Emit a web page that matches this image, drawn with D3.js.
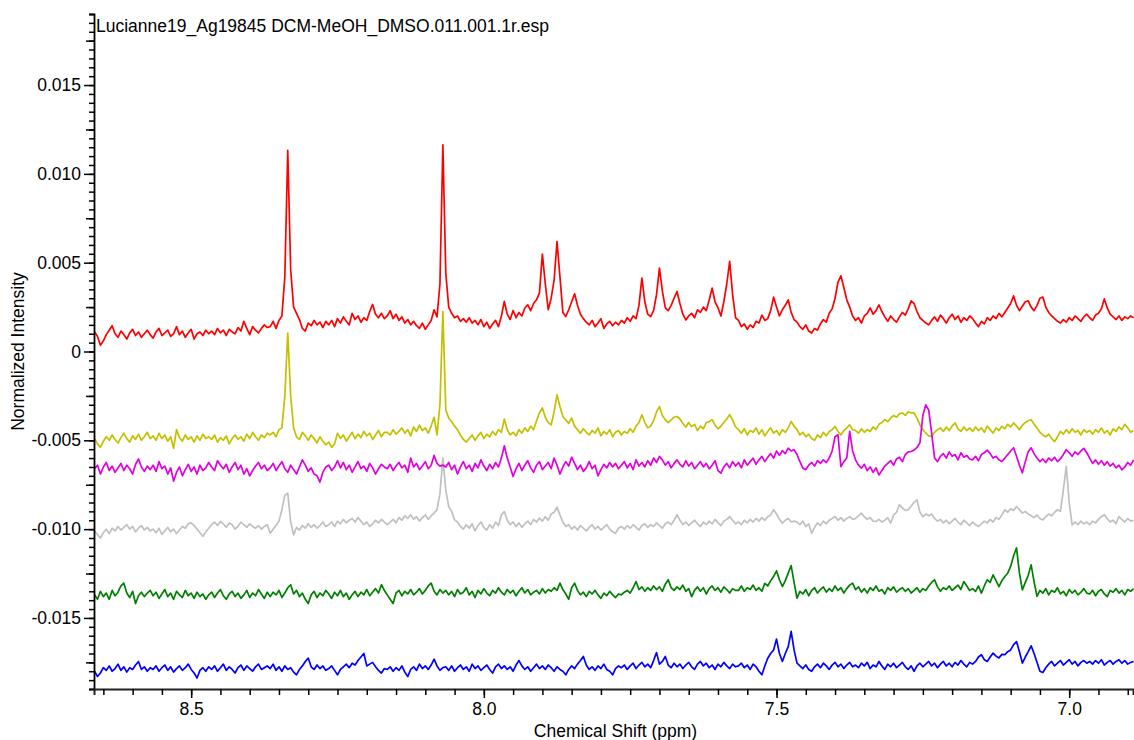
<!DOCTYPE html>
<html>
<head>
<meta charset="utf-8">
<script src="https://cdn.jsdelivr.net/npm/d3@7"></script>
<style>
  html, body { margin: 0; padding: 0; background: #ffffff; }
  svg { display: block; font-family: "Liberation Sans", Arial, Helvetica, sans-serif; }
</style>
</head>
<body>
<svg id="chart" width="1134" height="740"></svg>
<script>
// Chemical-shift grid of the spectra (ppm): first point and spacing, 356 points each
const shiftStart = 8.665;
const shiftStep = 0.005;
// Intensities are stored in units of 1e-5 (normalized intensity)
const intensityUnit = 1e-5;

const redTrace = [
  110, 85, 35, 60, 95, 120, 145, 100, 80, 115, 95, 70, 105, 125, 90, 110, 80, 100, 120, 95,
  75, 110, 130, 90, 105, 120, 85, 100, 140, 95, 115, 80, 105, 125, 70, 100, 110, 90, 120, 100,
  115, 95, 130, 105, 120, 90, 125, 110, 100, 135, 115, 170, 130, 95, 140, 120, 105, 130, 150, 135,
  140, 170, 130, 175, 200, 420, 1132, 460, 250, 215, 180, 130, 115, 160, 145, 175, 150, 165, 135, 170,
  150, 175, 140, 185, 160, 195, 170, 150, 215, 180, 200, 165, 190, 175, 225, 265, 210, 190, 215, 185,
  200, 230, 185, 210, 175, 195, 160, 180, 150, 170, 145, 130, 160, 125, 150, 175, 235, 195, 380, 1164,
  440, 250, 215, 190, 200, 170, 185, 165, 190, 160, 175, 150, 180, 140, 165, 130, 155, 175, 140, 200,
  282, 210, 180, 231, 190, 220, 200, 245, 263, 230, 270, 291, 330, 548, 380, 235, 300, 400, 619, 420,
  220, 197, 235, 280, 325, 260, 210, 185, 165, 150, 175, 140, 160, 185, 130, 155, 170, 145, 165, 150,
  175, 160, 190, 170, 200, 185, 260, 413, 280, 210, 197, 230, 320, 469, 340, 246, 230, 260, 300, 338,
  270, 210, 178, 200, 215, 190, 235, 220, 250, 230, 290, 357, 280, 246, 200, 280, 380, 507, 320, 190,
  175, 140, 155, 125, 150, 135, 170, 160, 205, 175, 185, 230, 306, 250, 200, 235, 260, 291, 220, 180,
  165, 140, 125, 150, 115, 104, 130, 120, 155, 180, 165, 215, 240, 300, 390, 426, 360, 291, 250, 200,
  175, 190, 160, 200, 215, 245, 210, 230, 262, 225, 195, 170, 200, 180, 165, 195, 220, 205, 240, 285,
  270, 225, 190, 175, 160, 150, 175, 195, 170, 205, 185, 160, 190, 210, 180, 200, 165, 190, 175, 200,
  185, 160, 140, 170, 155, 190, 175, 200, 185, 215, 195, 220, 245, 270, 313, 260, 230, 255, 280, 285,
  250, 230, 260, 300, 307, 250, 220, 200, 185, 170, 160, 180, 165, 190, 175, 200, 185, 170, 195, 210,
  190, 175, 205, 215, 240, 296, 245, 210, 195, 180, 200, 175, 195, 185, 200, 190
];

const yellowTrace = [
  -490, -520, -540, -505, -480, -500, -470, -495, -515, -485, -460, -490, -510, -475, -495, -465, -500, -480, -455, -490,
  -475, -500, -460, -490, -470, -505, -480, -545, -440, -485, -505, -470, -495, -480, -510, -475, -500, -465, -490, -480,
  -495, -470, -510, -485, -500, -475, -520, -490, -470, -495, -480, -505, -465, -490, -455, -480, -500, -470, -485, -460,
  -470, -455, -480, -440, -430, -250, 104, -250, -430, -480, -495, -455, -475, -500, -470, -490, -515, -480, -505, -525,
  -510, -540, -520, -460, -490, -470, -505, -480, -455, -490, -465, -485, -450, -475, -460, -495, -470, -445, -480, -455,
  -455, -470, -440, -465, -450, -430, -460, -440, -475, -425, -450, -415, -445, -430, -460, -420, -370, -470, -300, 225,
  -330, -374, -395, -420, -440, -470, -495, -510, -490, -470, -500, -475, -455, -490, -465, -480, -450, -470, -440, -455,
  -380, -440, -470, -455, -475, -440, -460, -430, -450, -420, -440, -390, -345, -318, -370, -400, -413, -340, -244, -310,
  -366, -385, -405, -375, -420, -440, -460, -435, -455, -470, -445, -460, -430, -475, -450, -465, -440, -480, -455, -445,
  -470, -450, -460, -435, -455, -420, -400, -356, -400, -430, -420, -390, -340, -310, -360, -385, -400, -385, -370, -366,
  -380, -405, -425, -400, -423, -410, -445, -420, -435, -400, -395, -384, -415, -435, -420, -400, -380, -356, -385, -425,
  -440, -460, -435, -470, -445, -455, -430, -465, -440, -475, -450, -430, -460, -445, -470, -440, -455, -430, -394, -420,
  -440, -470, -455, -480, -465, -490, -500, -470, -485, -455, -475, -450, -440, -422, -450, -470, -445, -430, -413, -440,
  -445, -460, -435, -455, -440, -450, -425, -440, -410, -400, -384, -395, -375, -360, -370, -350, -346, -360, -340, -346,
  -346, -375, -413, -440, -460, -475, -478, -455, -440, -430, -450, -425, -445, -420, -402, -435, -450, -425, -445, -430,
  -450, -425, -445, -430, -455, -420, -440, -460, -430, -445, -420, -435, -410, -425, -402, -420, -440, -415, -400, -390,
  -384, -410, -430, -455, -470, -480, -465, -490, -507, -480, -450, -465, -440, -460, -435, -455, -445, -470, -440, -455,
  -445, -465, -440, -455, -430, -460, -445, -470, -435, -450, -425, -440, -410, -430, -455, -445
];

const magentaTrace = [
  -660, -640, -690, -650, -625, -670, -645, -680, -655, -630, -670, -640, -660, -690, -635, -605, -650, -675, -645, -665,
  -640, -675, -620, -660, -645, -690, -655, -730, -680, -650, -700, -665, -635, -675, -650, -690, -640, -670, -655, -625,
  -650, -670, -615, -640, -660, -635, -680, -650, -625, -665, -640, -690, -660, -700, -670, -645, -625, -660, -640, -670,
  -655, -630, -670, -645, -620, -660, -680, -640, -665, -690, -650, -610, -640, -675, -655, -690, -700, -735, -680, -650,
  -640, -670, -650, -615, -655, -625, -665, -640, -680, -650, -620, -660, -645, -675, -630, -655, -690, -660, -635, -650,
  -660, -635, -670, -645, -625, -655, -640, -680, -600, -650, -630, -665, -645, -620, -660, -640, -585, -630, -645, -640,
  -650, -625, -665, -640, -690, -650, -620, -660, -640, -675, -630, -655, -610, -645, -670, -635, -660, -625, -650, -600,
  -531, -600, -650, -704, -660, -630, -670, -640, -615, -655, -680, -640, -620, -665, -645, -625, -660, -600, -640, -690,
  -650, -620, -645, -595, -630, -665, -640, -675, -655, -620, -660, -640, -700, -665, -635, -655, -625, -650, -630, -660,
  -640, -620, -655, -630, -665, -610, -645, -625, -650, -615, -640, -600, -625, -591, -610, -640, -620, -655, -630, -610,
  -635, -650, -615, -645, -625, -660, -640, -620, -650, -630, -660, -640, -615, -670, -685, -650, -630, -655, -620, -645,
  -625, -655, -610, -640, -620, -600, -635, -610, -590, -620, -595, -575, -600, -560, -585, -558, -575, -544, -560, -553,
  -580, -620, -657, -665, -640, -625, -645, -615, -630, -610, -625, -600, -560, -480, -469, -648, -620, -600, -450, -560,
  -610, -640, -657, -635, -670, -650, -680, -655, -695, -670, -645, -630, -615, -640, -605, -595, -620, -580, -565, -563,
  -555, -540, -514, -360, -300, -330, -459, -600, -620, -590, -575, -600, -565, -590, -580, -610, -570, -595, -585, -605,
  -610, -590, -615, -580, -570, -555, -575, -600, -590, -610, -619, -600, -580, -560, -542, -590, -640, -683, -620, -565,
  -542, -575, -600, -620, -605, -625, -600, -615, -595, -620, -605, -580, -553, -570, -590, -565, -580, -560, -545, -570,
  -600, -630, -610, -635, -615, -640, -620, -645, -630, -655, -640, -666, -650, -625, -640, -610
];

const greyTrace = [
  -1013, -1030, -1050, -1020, -1000, -1025, -995, -1010, -985, -1005, -990, -975, -1000, -985, -1015, -995, -980, -1005, -990, -1010,
  -1000, -1020, -995, -1030, -1010, -990, -1015, -1000, -1025, -1005, -985, -995, -970, -965, -980, -1000, -1020, -1041, -1015, -995,
  -975, -960, -980, -957, -970, -990, -965, -975, -1000, -985, -960, -975, -990, -970, -985, -995, -980, -1000, -985, -975,
  -1023, -1000, -980, -955, -891, -810, -797, -960, -1032, -990, -1005, -980, -995, -970, -990, -975, -995, -980, -960, -985,
  -975, -960, -985, -955, -970, -945, -965, -950, -940, -960, -935, -955, -975, -960, -985, -970, -950, -965, -945, -960,
  -975, -960, -945, -965, -935, -950, -925, -940, -919, -945, -930, -955, -935, -920, -945, -925, -910, -891, -800, -600,
  -780, -873, -900, -948, -960, -985, -1000, -975, -995, -970, -1010, -980, -960, -990, -1005, -975, -995, -960, -980, -920,
  -901, -950, -975, -960, -985, -965, -990, -970, -955, -975, -945, -960, -938, -955, -930, -950, -915, -905, -876, -920,
  -960, -985, -975, -1000, -985, -1005, -980, -995, -1010, -990, -975, -1000, -985, -1005, -990, -975, -1000, -1015, -1023, -995,
  -985, -1000, -980, -995, -975, -990, -1005, -980, -970, -990, -975, -985, -965, -980, -995, -970, -960, -975, -950, -919,
  -950, -975, -960, -980, -965, -950, -970, -985, -960, -975, -955, -970, -945, -965, -980, -955, -945, -929, -950, -970,
  -960, -975, -950, -965, -945, -960, -940, -955, -935, -950, -930, -920, -891, -915, -945, -966, -950, -940, -960, -955,
  -960, -975, -955, -985, -970, -1023, -990, -965, -980, -955, -970, -950, -940, -929, -950, -935, -955, -940, -930, -945,
  -940, -925, -910, -930, -945, -935, -955, -957, -945, -960, -950, -935, -966, -920, -905, -863, -880, -895, -891, -870,
  -850, -835, -905, -930, -915, -925, -915, -940, -955, -945, -965, -950, -970, -955, -940, -960, -975, -950, -965, -980,
  -960, -975, -985, -970, -955, -965, -945, -960, -935, -945, -920, -891, -905, -885, -895, -873, -890, -910, -900, -915,
  -925, -935, -920, -940, -948, -930, -915, -925, -905, -891, -900, -780, -647, -850, -976, -960, -975, -955, -970, -960,
  -975, -955, -965, -945, -930, -919, -940, -960, -950, -970, -929, -945, -960, -940, -955, -950
];

const greenTrace = [
  -1370, -1395, -1350, -1380, -1360, -1395, -1345, -1375, -1355, -1320, -1304, -1360, -1385, -1350, -1419, -1375, -1355, -1380, -1360, -1345,
  -1375, -1355, -1390, -1365, -1340, -1380, -1360, -1395, -1350, -1370, -1385, -1345, -1375, -1360, -1390, -1355, -1380, -1365, -1395, -1370,
  -1355, -1385, -1360, -1340, -1375, -1395, -1365, -1350, -1380, -1360, -1390, -1370, -1345, -1385, -1360, -1375, -1340, -1365, -1390, -1355,
  -1380, -1355, -1370, -1345, -1385, -1360, -1330, -1313, -1365, -1345, -1380, -1360, -1395, -1419, -1370, -1350, -1385, -1360, -1375, -1345,
  -1365, -1390, -1355, -1375, -1345, -1380, -1360, -1395, -1370, -1350, -1380, -1355, -1370, -1340, -1375, -1355, -1335, -1360, -1313, -1345,
  -1370, -1395, -1419, -1360, -1345, -1375, -1350, -1365, -1340, -1370, -1355, -1335, -1365, -1345, -1320, -1304, -1350, -1370, -1340, -1360,
  -1345, -1370, -1350, -1380, -1340, -1365, -1355, -1330, -1370, -1350, -1385, -1345, -1365, -1335, -1360, -1375, -1345, -1360, -1330, -1355,
  -1370, -1340, -1360, -1345, -1375, -1350, -1330, -1360, -1340, -1370, -1355, -1345, -1365, -1335, -1360, -1340, -1350, -1330, -1345, -1304,
  -1340, -1365, -1395, -1330, -1304, -1345, -1370, -1355, -1380, -1350, -1365, -1345, -1370, -1390, -1360, -1375, -1350, -1370, -1385, -1365,
  -1370, -1355, -1345, -1360, -1330, -1295, -1340, -1325, -1350, -1330, -1345, -1320, -1340, -1325, -1350, -1310, -1285, -1330, -1345, -1325,
  -1340, -1315, -1350, -1335, -1380, -1345, -1325, -1350, -1330, -1365, -1335, -1320, -1345, -1330, -1355, -1325, -1340, -1360, -1335, -1345,
  -1345, -1320, -1350, -1330, -1340, -1315, -1345, -1330, -1350, -1305, -1320, -1290, -1267, -1235, -1285, -1323, -1290, -1248, -1205, -1300,
  -1389, -1350, -1365, -1340, -1375, -1345, -1330, -1360, -1340, -1325, -1355, -1335, -1350, -1320, -1345, -1330, -1360, -1335, -1315, -1304,
  -1340, -1325, -1355, -1335, -1360, -1330, -1345, -1320, -1350, -1340, -1365, -1330, -1345, -1325, -1355, -1340, -1330, -1350, -1335, -1360,
  -1345, -1330, -1355, -1335, -1345, -1320, -1300, -1285, -1325, -1350, -1330, -1340, -1320, -1345, -1330, -1315, -1340, -1295, -1320, -1345,
  -1335, -1350, -1320, -1360, -1320, -1285, -1300, -1257, -1290, -1323, -1290, -1267, -1248, -1210, -1150, -1106, -1248, -1342, -1300, -1260,
  -1201, -1295, -1379, -1345, -1360, -1335, -1370, -1345, -1355, -1330, -1365, -1350, -1375, -1340, -1360, -1345, -1370, -1355, -1335, -1360,
  -1365, -1345, -1375, -1350, -1340, -1365, -1380, -1345, -1355, -1335, -1360, -1345, -1370, -1340, -1350, -1335
];

const blueTrace = [
  -1800, -1830, -1810, -1780, -1795, -1770, -1800, -1785, -1760, -1795, -1775, -1805, -1780, -1790, -1765, -1745, -1790, -1775, -1800, -1780,
  -1790, -1770, -1800, -1780, -1765, -1795, -1775, -1805, -1785, -1770, -1795, -1780, -1760, -1790, -1810, -1838, -1795, -1780, -1800, -1775,
  -1790, -1770, -1800, -1780, -1760, -1795, -1775, -1790, -1810, -1780, -1765, -1795, -1770, -1785, -1800, -1775, -1760, -1790, -1780, -1770,
  -1785, -1760, -1795, -1775, -1800, -1770, -1790, -1780, -1805, -1820, -1790, -1770, -1745, -1726, -1775, -1790, -1765, -1785, -1770, -1795,
  -1785, -1770, -1795, -1820, -1790, -1775, -1760, -1780, -1755, -1765, -1740, -1720, -1700, -1770, -1760, -1750, -1775, -1795, -1810, -1785,
  -1790, -1775, -1800, -1780, -1795, -1770, -1805, -1830, -1790, -1775, -1795, -1760, -1785, -1770, -1790, -1765, -1732, -1770, -1795, -1780,
  -1775, -1795, -1770, -1800, -1780, -1765, -1790, -1775, -1800, -1760, -1785, -1770, -1795, -1780, -1765, -1790, -1810, -1775, -1760, -1785,
  -1770, -1790, -1775, -1800, -1765, -1740, -1770, -1790, -1775, -1800, -1780, -1760, -1785, -1770, -1790, -1765, -1780, -1800, -1775, -1790,
  -1800, -1820, -1790, -1770, -1785, -1760, -1740, -1717, -1765, -1790, -1775, -1795, -1770, -1785, -1760, -1790, -1800, -1820, -1785, -1770,
  -1780, -1765, -1790, -1770, -1755, -1785, -1765, -1750, -1775, -1760, -1780, -1740, -1695, -1760, -1745, -1717, -1765, -1780, -1755, -1775,
  -1760, -1785, -1765, -1750, -1775, -1790, -1760, -1745, -1770, -1755, -1780, -1765, -1790, -1760, -1775, -1750, -1770, -1785, -1760, -1775,
  -1770, -1755, -1780, -1765, -1790, -1760, -1775, -1800, -1820, -1770, -1727, -1700, -1680, -1619, -1700, -1745, -1700, -1661, -1576, -1680,
  -1754, -1770, -1785, -1765, -1790, -1800, -1775, -1760, -1780, -1755, -1770, -1790, -1765, -1750, -1775, -1760, -1785, -1765, -1750, -1775,
  -1765, -1780, -1755, -1770, -1750, -1785, -1765, -1775, -1745, -1770, -1790, -1760, -1775, -1755, -1780, -1765, -1750, -1775, -1790, -1770,
  -1800, -1770, -1755, -1775, -1760, -1745, -1770, -1755, -1780, -1760, -1745, -1770, -1755, -1775, -1750, -1765, -1740, -1760, -1775, -1750,
  -1760, -1745, -1720, -1707, -1735, -1745, -1720, -1698, -1715, -1725, -1705, -1707, -1690, -1680, -1650, -1633, -1690, -1754, -1720, -1690,
  -1657, -1700, -1750, -1800, -1807, -1780, -1760, -1745, -1770, -1755, -1740, -1765, -1750, -1735, -1760, -1745, -1770, -1750, -1740, -1755,
  -1745, -1760, -1740, -1755, -1735, -1765, -1750, -1740, -1760, -1745, -1735, -1755, -1740, -1760, -1750, -1745
];

// Spectra in drawing order (last one is on top)
const spectra = [
  { name: "blue",    color: "#0000ff", values: blueTrace },
  { name: "green",   color: "#008000", values: greenTrace },
  { name: "grey",    color: "#c0c0c0", values: greyTrace },
  { name: "yellow",  color: "#c4c000", values: yellowTrace },
  { name: "magenta", color: "#e000e0", values: magentaTrace },
  { name: "red",     color: "#ff0000", values: redTrace }
];

// Axis ticks and labels
const xTickValues = [8.5, 8.0, 7.5, 7.0];
const xTickLabels = ["8.5", "8.0", "7.5", "7.0"];
const yTickValues = [-0.015, -0.010, -0.005, 0, 0.005, 0.010, 0.015];
const yTickLabels = ["-0.015", "-0.010", "-0.005", "0", "0.005", "0.010", "0.015"];
const xDomain = [8.666, 6.891];
const yDomain = [-0.019, 0.019];

const titleText = "Lucianne19_Ag19845 DCM-MeOH_DMSO.011.001.1r.esp";
const xTitle = "Chemical Shift (ppm)";
const yTitle = "Normalized Intensity";

// ---- layout ----
const svg = d3.select("#chart");
const plot = { left: 94, right: 1133, top: 14, bottom: 689 };
const fontSize = "17.5px";
const fontFamily = "'Liberation Sans', Arial, sans-serif";

const x = d3.scaleLinear().domain(xDomain).range([plot.left, plot.right]);
const y = d3.scaleLinear().domain(yDomain).range([plot.bottom, plot.top]);

svg.append("defs").append("clipPath").attr("id", "plotClip")
  .append("rect")
  .attr("x", plot.left + 1).attr("y", plot.top - 2)
  .attr("width", plot.right - plot.left + 2)
  .attr("height", plot.bottom - plot.top + 1);

// ---- spectra ----
const line = d3.line()
  .x((d, i) => x(shiftStart - i * shiftStep))
  .y(d => y(d * intensityUnit));

const traces = svg.append("g").attr("clip-path", "url(#plotClip)");
traces.selectAll("path")
  .data(spectra)
  .join("path")
  .attr("fill", "none")
  .attr("stroke", d => d.color)
  .attr("stroke-width", 1.7)
  .attr("stroke-linejoin", "round")
  .attr("d", d => line(d.values));

// ---- y axis ----
const yMinor = d3.range(-0.019, 0.01901, 0.0005).map(v => Math.round(v * 1e5) / 1e5);
const yMid = yMinor.filter(v => Math.abs(Math.round(v * 1e5) % 250) === 0 && Math.abs(Math.round(v * 1e5) % 500) !== 0);

const yAxisMinor = d3.axisLeft(y).tickValues(yMinor).tickSize(5).tickFormat("");
const yAxisMid = d3.axisLeft(y).tickValues(yMid).tickSize(8).tickFormat("");
const yAxisMajor = d3.axisLeft(y).tickValues(yTickValues).tickSize(10)
  .tickFormat((d, i) => yTickLabels[i]).tickPadding(3);

[yAxisMinor, yAxisMid, yAxisMajor].forEach((ax, k) => {
  const g = svg.append("g").attr("transform", `translate(${plot.left},0)`).call(ax);
  g.select(".domain").attr("stroke", k === 0 ? "#000" : "none").attr("stroke-width", 1.8);
  g.selectAll(".tick line").attr("stroke", "#000").attr("stroke-width", 1.5);
  g.selectAll(".tick text").attr("fill", "#000").style("font-size", fontSize)
    .style("font-family", fontFamily);
});

// ---- x axis ----
const xMinor = d3.range(6.9, 8.6601, 0.05).map(v => Math.round(v * 100) / 100);
const xAxisMinor = d3.axisBottom(x).tickValues(xMinor).tickSize(6).tickFormat("");
const xAxisMajor = d3.axisBottom(x).tickValues(xTickValues).tickSize(9)
  .tickFormat((d, i) => xTickLabels[i]).tickPadding(5);

[xAxisMinor, xAxisMajor].forEach((ax, k) => {
  const g = svg.append("g").attr("transform", `translate(0,${plot.bottom})`).call(ax);
  g.select(".domain").attr("stroke", k === 0 ? "#222" : "none").attr("stroke-width", 2);
  g.selectAll(".tick line").attr("stroke", "#000").attr("stroke-width", 1.5);
  g.selectAll(".tick text").attr("fill", "#000").style("font-size", fontSize)
    .style("font-family", fontFamily);
});

// ---- titles ----
svg.append("text")
  .attr("x", plot.left + 2).attr("y", 32)
  .attr("fill", "#000").style("font-size", fontSize)
  .text(titleText);

svg.append("text")
  .attr("x", (plot.left + plot.right) / 2 + 2).attr("y", 737)
  .attr("text-anchor", "middle")
  .attr("fill", "#000").style("font-size", fontSize)
  .text(xTitle);

svg.append("text")
  .attr("transform", `translate(24,${(plot.top + plot.bottom) / 2}) rotate(-90)`)
  .attr("text-anchor", "middle")
  .attr("fill", "#000").style("font-size", fontSize)
  .text(yTitle);
</script>
</body>
</html>
